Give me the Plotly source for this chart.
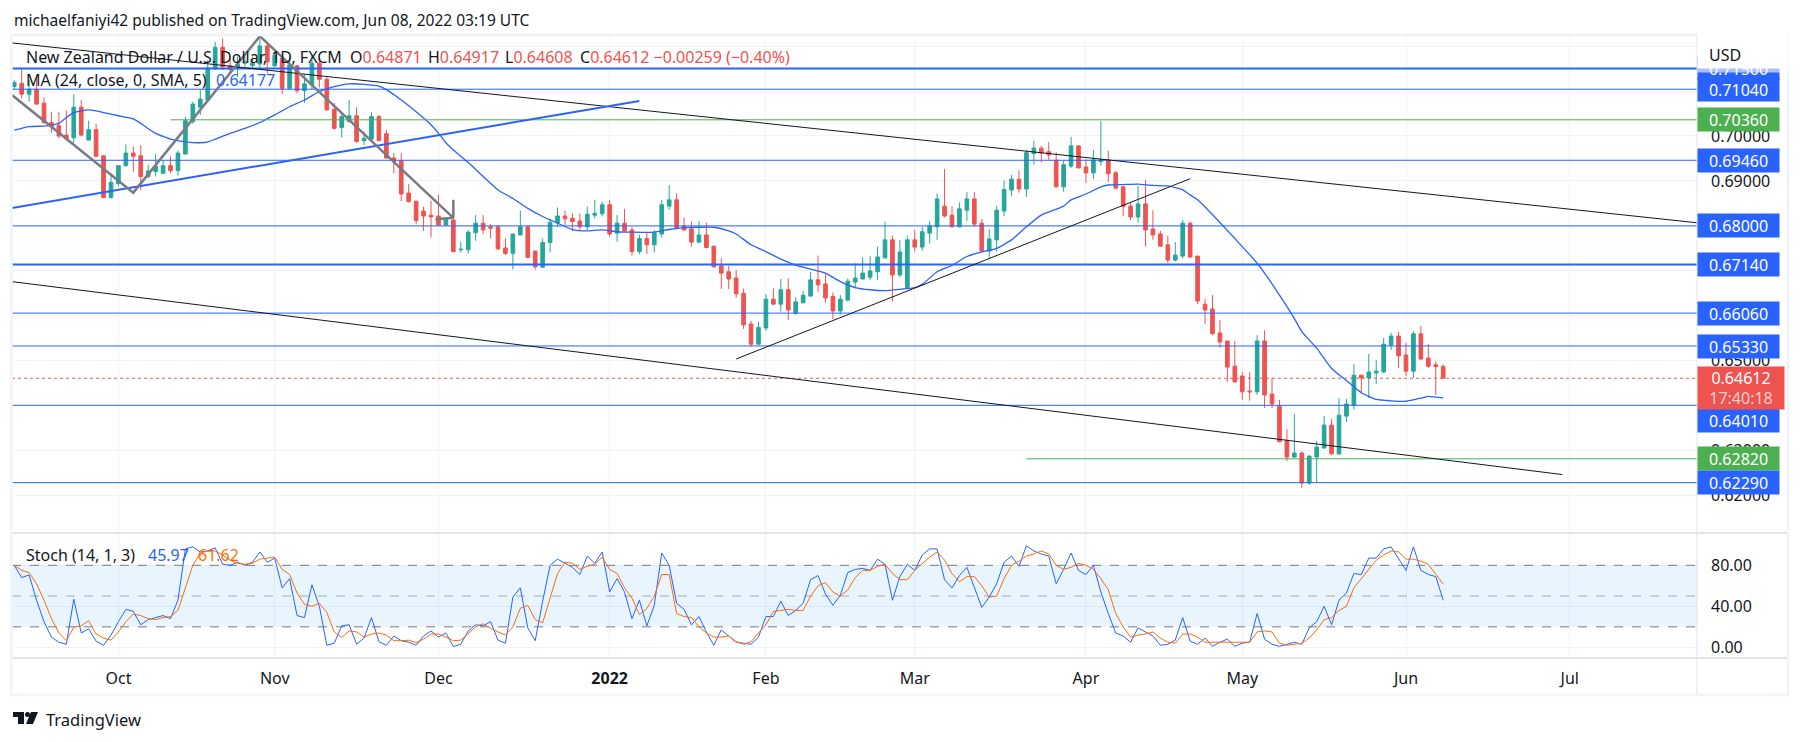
#Import libraries
import numpy as np
import pandas as pd
import plotly.graph_objects as go
from plotly.subplots import make_subplots

W, H = 1801, 742
L, R, T, B = 12, 104, 36, 84   # plot area margins

#Daily NZD/USD candles: open, high, low, close
ohlc = [
 (.7110,.7125,.7103,.7119),(.7117,.7151,.7084,.7093),(.7093,.7125,.7076,.7104),(.7104,.7131,.7069,.7071),
 (.7073,.7086,.7027,.7030),(.7030,.7054,.7007,.7021),(.7023,.7054,.6995,.7000),(.7002,.7057,.6991,.6994),
 (.6996,.7093,.6984,.7064),(.7064,.7080,.6999,.7002),(.6991,.7034,.6990,.7014),(.7014,.7027,.6953,.6955),
 (.6956,.6957,.6861,.6863),(.6863,.6917,.6861,.6897),(.6894,.6934,.6888,.6934),(.6934,.6981,.6932,.6962),
 (.6962,.6977,.6921,.6955),(.6956,.6980,.6879,.6910),(.6910,.6936,.6906,.6922),(.6921,.6960,.6910,.6932),
 (.6917,.6947,.6916,.6934),(.6934,.6955,.6917,.6923),(.6923,.6968,.6912,.6962),(.6960,.7043,.6959,.7034),
 (.7032,.7076,.7027,.7071),(.7064,.7103,.7047,.7082),(.7080,.7169,.7079,.7151),(.7149,.7209,.7147,.7197),
 (.7197,.7217,.7147,.7154),(.7156,.7173,.7143,.7148),(.7151,.7177,.7131,.7160),(.7162,.7177,.7154,.7165),
 (.7157,.7177,.7151,.7162),(.7160,.7217,.7151,.7200),(.7200,.7206,.7139,.7165),(.7156,.7188,.7154,.7180),
 (.7173,.7180,.7093,.7106),(.7106,.7177,.7103,.7158),(.7156,.7158,.7095,.7101),(.7101,.7136,.7074,.7116),
 (.7114,.7180,.7103,.7162),(.7162,.7173,.7108,.7126),(.7126,.7133,.7057,.7058),(.7059,.7073,.7014,.7017),
 (.7019,.7052,.6997,.7043),(.7032,.7080,.7030,.7045),(.7045,.7064,.6985,.6988),(.6990,.7010,.6980,.6995),
 (.6993,.7053,.6990,.7043),(.7043,.7047,.6988,.6990),(.7005,.7014,.6949,.6951),(.6951,.6962,.6917,.6943),
 (.6945,.6962,.6855,.6871),(.6873,.6893,.6852,.6854),(.6855,.6856,.6804,.6812),(.6833,.6843,.6789,.6822),
 (.6824,.6856,.6774,.6820),(.6822,.6869,.6800,.6802),(.6802,.6817,.6799,.6815),(.6813,.6821,.6741,.6743),
 (.6747,.6765,.6741,.6748),(.6747,.6791,.6739,.6786),(.6785,.6824,.6767,.6806),(.6806,.6824,.6782,.6791),
 (.6798,.6804,.6772,.6795),(.6798,.6802,.6746,.6749),(.6751,.6772,.6735,.6739),(.6739,.6782,.6703,.6782),
 (.6780,.6834,.6779,.6798),(.6798,.6801,.6728,.6730),(.6744,.6745,.6703,.6709),(.6708,.6772,.6706,.6763),
 (.6763,.6817,.6741,.6808),(.6807,.6841,.6797,.6822),(.6822,.6834,.6802,.6816),(.6817,.6828,.6789,.6810),
 (.6811,.6828,.6789,.6798),(.6798,.6843,.6791,.6826),(.6824,.6858,.6817,.6828),(.6827,.6854,.6821,.6847),
 (.6847,.6858,.6776,.6782),(.6784,.6824,.6765,.6806),(.6806,.6838,.6787,.6789),(.6791,.6798,.6734,.6743),
 (.6743,.6780,.6737,.6772),(.6772,.6785,.6738,.6758),(.6758,.6791,.6741,.6785),(.6782,.6858,.6774,.6847),
 (.6844,.6891,.6836,.6858),(.6858,.6872,.6792,.6796),(.6800,.6819,.6789,.6791),(.6793,.6810,.6754,.6764),
 (.6764,.6811,.6761,.6780),(.6780,.6807,.6750,.6752),(.6755,.6755,.6708,.6709),(.6711,.6728,.6660,.6695),
 (.6698,.6711,.6660,.6682),(.6684,.6702,.6640,.6649),(.6650,.6661,.6571,.6580),(.6582,.6589,.6531,.6537),
 (.6537,.6587,.6537,.6574),(.6573,.6648,.6567,.6637),(.6637,.6661,.6625,.6626),(.6626,.6682,.6609,.6658),
 (.6658,.6683,.6591,.6613),(.6606,.6641,.6602,.6631),(.6629,.6655,.6628,.6646),(.6644,.6698,.6643,.6680),
 (.6680,.6734,.6653,.6669),(.6671,.6693,.6629,.6640),(.6643,.6652,.6593,.6611),(.6611,.6646,.6603,.6637),
 (.6635,.6683,.6632,.6677),(.6675,.6717,.6661,.6684),(.6682,.6730,.6681,.6695),(.6686,.6733,.6680,.6700),
 (.6698,.6754,.6680,.6731),(.6729,.6809,.6727,.6769),(.6769,.6778,.6632,.6691),(.6691,.6769,.6686,.6742),
 (.6663,.6778,.6661,.6769),(.6769,.6791,.6743,.6753),(.6753,.6798,.6745,.6787),(.6784,.6810,.6761,.6800),
 (.6798,.6872,.6769,.6860),(.6844,.6927,.6819,.6822),(.6824,.6844,.6797,.6798),(.6798,.6852,.6797,.6838),
 (.6835,.6875,.6811,.6860),(.6860,.6875,.6798,.6804),(.6806,.6815,.6743,.6744),(.6744,.6793,.6729,.6771),
 (.6769,.6844,.6743,.6835),(.6833,.6901,.6822,.6881),(.6880,.6913,.6867,.6904),(.6904,.6924,.6874,.6882),
 (.6882,.6969,.6865,.6963),(.6961,.6989,.6936,.6973),(.6973,.6978,.6941,.6962),(.6965,.6987,.6947,.6958),
 (.6946,.6964,.6886,.6887),(.6887,.6945,.6876,.6936),(.6933,.6998,.6929,.6978),(.6978,.6979,.6928,.6929),
 (.6931,.6948,.6896,.6918),(.6918,.6969,.6904,.6947),(.6943,.7034,.6934,.6947),(.6947,.6967,.6898,.6916),
 (.6918,.6922,.6881,.6884),(.6887,.6887,.6822,.6843),(.6844,.6852,.6813,.6820),(.6820,.6889,.6807,.6849),
 (.6849,.6902,.6754,.6791),(.6793,.6835,.6769,.6780),(.6782,.6789,.6754,.6755),(.6758,.6778,.6717,.6724),
 (.6724,.6764,.6721,.6735),(.6733,.6813,.6728,.6806),(.6806,.6809,.6728,.6731),(.6733,.6733,.6626,.6633),
 (.6626,.6637,.6582,.6613),(.6615,.6646,.6558,.6560),(.6562,.6591,.6529,.6542),(.6544,.6544,.6453,.6486),
 (.6488,.6544,.6451,.6453),(.6466,.6475,.6413,.6431),(.6433,.6475,.6411,.6431),(.6431,.6557,.6424,.6544),
 (.6544,.6568,.6395,.6424),(.6426,.6462,.6395,.6404),(.6399,.6413,.6319,.6320),(.6322,.6348,.6277,.6286),
 (.6286,.6382,.6284,.6295),(.6295,.6299,.6217,.6228),(.6228,.6290,.6224,.6288),(.6286,.6322,.6230,.6308),
 (.6306,.6377,.6305,.6357),(.6357,.6371,.6290,.6293),(.6293,.6417,.6290,.6379),(.6377,.6415,.6364,.6404),
 (.6401,.6493,.6391,.6468),(.6468,.6469,.6426,.6462),(.6462,.6515,.6417,.6475),(.6473,.6502,.6448,.6477),
 (.6475,.6551,.6473,.6537),(.6535,.6562,.6524,.6555),(.6555,.6564,.6484,.6511),(.6513,.6540,.6466,.6477),
 (.6477,.6566,.6462,.6560),(.6560,.6577,.6502,.6504),(.6506,.6537,.6484,.6488),(.6491,.6499,.6424,.6487),
 (.64871,.64917,.64608,.64612),
]
df = pd.DataFrame(ohlc, columns=['open', 'high', 'low', 'close'])
df['date'] = pd.bdate_range('2021-09-13', periods=len(df))
df['bar'] = np.arange(len(df)) - 14   # bar 0 is Oct 1, weekends are skipped like on the chart

#MA line, read at these bars
ma = {-14:.7013,-12:.7021,-10:.7022,-9:.7024,-8:.7028,-7:.7041,-6:.7052,-5:.7056,-4:.7058,-3:.7056,-2:.7052,
      0:.7045,2:.7038,3:.7028,4:.7016,5:.7006,6:.6999,7:.6993,9:.6987,11:.6985,12:.6987,13:.6993,15:.7006,
      17:.7017,19:.7030,21:.7047,23:.7065,25:.7080,27:.7099,28:.7105,29:.7110,31:.7116,33:.7115,35:.7111,
      36:.7103,38:.7080,40:.7054,42:.7025,43:.7006,44:.6985,45:.6969,47:.6941,49:.6910,51:.6880,53:.6861,
      55:.6839,57:.6821,59:.6806,61:.6792,63:.6789,65:.6791,67:.6787,69:.6786,72:.6786,74:.6792,76:.6796,
      78:.6797,80:.6797,82:.6789,83:.6782,85:.6758,87:.6743,89:.6726,91:.6713,93:.6704,95:.6695,97:.6676,
      99:.6663,101:.6658,103:.6656,105:.6659,107:.6663,108:.6670,110:.6698,112:.6712,114:.6732,116:.6742,
      118:.6750,120:.6769,122:.6798,124:.6824,127:.6844,128:.6858,130:.6871,132:.6887,133:.6891,135:.6892,
      137:.6893,139:.6890,141:.6889,143:.6880,144:.6869,145:.6858,151:.6754,153:.6717,154:.6695,156:.6646,
      158:.6594,159:.6565,161:.6528,163:.6483,165:.6456,167:.6429,169:.6414,171:.6411,173:.6410,175:.6417,
      176:.6421,177:.6419,178:.64177}

#Stochastic %K and %D, one value per bar
stoch_k = [80,68,70.6,46,25,10,5,3,47,14,18,6,2,12,25,37,35,22,27,29,31,28,46,96,98,93,94,97,81,80,83,80,83,93,83,87,
           58,67,31,29,61,40,2,4,21,22,3,9,29,5.5,2,11,6.5,5,2,11,16,10,14,0.7,3,16,22,21,25,7,4,49,58,19,6.5,45,80,
           86,82,78,71,89,82,93,54,67,54,28,46,21,41,92,80,43,37,22,30,15,2,17,11,5,4,3,10,30,30,45,31,36,
           43,66,70,52,41,51,73,76,77,75,86,81,46,69,81,75,90,96,96,66,58,70,78,58,39,49,62,83,89,79,99,94,91,89,
           62,76,92,75,71,80,54,33,14,11,5,19,15,11,2,3,7,29,6,3,9,1,5,8,1,4,5,33,8,3,1,3,5,3,19,25,40,22,46,53,
           72,71,87,87,96,98,86,75,98,75,71,69,45.97]
stoch_d = [80,75,73,62,46,28,14,6.5,19.5,21,26,13,9,7,15,25,32.5,31,28,27,29,30,36,58,80,92,94,94,90,85,82,81,82,86,87,
           88,76,71,53,42,40,43,34,15,9.5,16,15,10,13,14,12,6.5,6.5,7,4.5,8,13,13,10,6.5,7,14,20,23,18.5,15,12,20,38,
           41,27,24,48,72,83,82,76,79,81,88,76,72,58,48,32,38,50,71,71,33,30,29,20,14,10,10,11,5.5,3,5.5,14,22,35,36,
           37,36,36,50,60,63,54,50,56,68,75,75,79,81,72,66,66,75,82,88,93,85,72,64,69,69,60,49,50,67,80,84,89,91,94,
           91,80,76,78,82,80,76,67,56,33,20,10,12,13,15,9,5,4,13,13,10,5,5,5,5,5,5,5,15,16,15,4,2,3,4,9,17,27,29,36,
           40,58,67,77,85,90,94,93,86,86,84,81,71,61.62]

#Levels drawn on the chart: price, colour, width, first bar
BLUE, GREEN, RED = '#2962ff', '#4caf50', '#ef5350'
x0, x1 = -14.3, 212.1
levels = [(0.7150, BLUE, 2, x0), (0.7104, BLUE, 1, x0), (0.7036, GREEN, 1, 7), (0.6946, BLUE, 1, x0),
          (0.6800, BLUE, 1, x0), (0.6714, BLUE, 2, x0), (0.6606, BLUE, 1, x0), (0.6533, BLUE, 1, x0),
          (0.6401, BLUE, 1, x0), (0.6282, GREEN, 1, 122), (0.6229, BLUE, 1, x0)]

fig = make_subplots(rows=2, cols=1, shared_xaxes=True, vertical_spacing=0, row_heights=[497, 125])

fig.add_trace(go.Candlestick(x=df['bar'], open=df['open'], high=df['high'], low=df['low'], close=df['close'],
                             increasing=dict(line=dict(color='#26a69a', width=1), fillcolor='#26a69a'),
                             decreasing=dict(line=dict(color=RED, width=1), fillcolor=RED),
                             whiskerwidth=0), row=1, col=1)
fig.add_trace(go.Scatter(x=list(ma.keys()), y=list(ma.values()), mode='lines',
                         line=dict(color=BLUE, width=1.3, shape='spline', smoothing=0.5)), row=1, col=1)

for price, color, width, start in levels:
    fig.add_trace(go.Scatter(x=[start, x1], y=[price, price], mode='lines',
                             line=dict(color=color, width=width)), row=1, col=1)

#last price
fig.add_trace(go.Scatter(x=[x0, x1], y=[0.64612, 0.64612], mode='lines',
                         line=dict(color=RED, width=1, dash='dot')), row=1, col=1)

#trendlines
trends = [([x0, x1], [.7207, .6807], '#131722', 1),
          ([x0, 194], [.6676, .6247], '#131722', 1),
          ([83, 144], [.6504, .6905], '#131722', 1),
          ([x0, 70], [.6840, .7078], BLUE, 2)]
for xs, ys, color, width in trends:
    fig.add_trace(go.Scatter(x=xs, y=ys, mode='lines', line=dict(color=color, width=width)), row=1, col=1)

#grey zigzag with its arrow head
fig.add_trace(go.Scatter(x=[x0, 2, 19, 45, 45, None, 42.6, 45], y=[.7091, .6874, .7222, .6818, .6858, None, .6815, .6818],
                         mode='lines', line=dict(color='#787b86', width=2.5)), row=1, col=1)

#stochastic pane
fig.add_trace(go.Scatter(x=[x0, x1, x1, x0], y=[20, 20, 80, 80], mode='lines', fill='toself',
                         fillcolor='rgba(33,150,243,0.1)', line=dict(width=0)), row=2, col=1)
for lvl, c in [(80, '#787b86'), (50, 'rgba(120,123,134,0.6)'), (20, '#787b86')]:
    fig.add_trace(go.Scatter(x=[x0, x1], y=[lvl, lvl], mode='lines', line=dict(color=c, width=1, dash='dash')), row=2, col=1)
fig.add_trace(go.Scatter(x=df['bar'], y=stoch_k, mode='lines', line=dict(color=BLUE, width=1)), row=2, col=1)
fig.add_trace(go.Scatter(x=df['bar'], y=stoch_d, mode='lines', line=dict(color='#ff6d00', width=1)), row=2, col=1)

#x axis ticks are the first trading day of each month
tickbars = [0, 21, 43, 66, 87, 107, 130, 151, 173, 195]
ticknames = ['Oct', 'Nov', 'Dec', '<b>2022</b>', 'Feb', 'Mar', 'Apr', 'May', 'Jun', 'Jul']
FONT = 'Noto Sans'
fig.update_xaxes(range=[x0, x1], tickvals=tickbars, ticktext=ticknames, showgrid=True, gridcolor='#f0f3fa',
                 gridwidth=1, zeroline=False, rangeslider_visible=False, showline=False,
                 tickfont=dict(family=FONT, size=16, color='#131722'), ticks='outside', ticklen=6, tickcolor='white')
fig.update_yaxes(side='right', showgrid=True, gridcolor='#f0f3fa', gridwidth=1, zeroline=False, showline=False,
                 tickfont=dict(family=FONT, size=16, color='#131722'), ticks='', ticklabelstandoff=13)
fig.update_yaxes(range=[.6117, .72224], tickvals=[.62, .63, .64, .65, .66, .67, .68, .69, .70, .71, .72],
                 tickformat='.5f', row=1, col=1)
fig.update_yaxes(range=[-10.4, 111.5], tickvals=[0, 40, 80], tickformat='.2f', row=2, col=1)


def px(x):
    return (x - L) / (W - L - R)


def py(y):
    return (H - B - y) / (H - T - B)


def text(x, y, s, color='#131722', size=16, **kw):
    fig.add_annotation(xref='paper', yref='paper', x=px(x), y=py(y), text=s, showarrow=False, xanchor='left',
                       yanchor='middle', font=dict(family=FONT, size=size, color=color), **kw)


def label(y, s, color, w=81, h=23):
    fig.add_annotation(xref='paper', yref='paper', x=px(1697), y=py(y), text=s, showarrow=False, xanchor='left',
                       yanchor='middle', width=w, height=h, bgcolor=color, borderpad=0, align='center',
                       font=dict(family=FONT, size=16, color='white'))


#price labels on the axis
label(68.6, '0.71500', BLUE)
text(1697, 51, ' ', width=88, height=32, bgcolor='white')
text(1697, 69, ' ', width=88, height=4, bgcolor='rgba(255,255,255,0.6)')
label(89.2, '0.71040', BLUE)
label(119.8, '0.70360', GREEN)
label(160.3, '0.69460', BLUE)
label(226, '0.68000', BLUE)
label(264.5, '0.67140', BLUE)
label(313, '0.66060', BLUE)
label(346.5, '0.65330', BLUE)
label(420, '0.64010', BLUE)
label(458.5, '0.62820', GREEN)
label(482.4, '0.62290', BLUE)
label(388, '0.64612<br><span style="color:#fbd0cf">17:40:18</span>', RED, w=86, h=42)
text(1707, 54.7, 'USD')

#header, legends and footer
text(12, 20.5, 'michaelfaniyi42 published on TradingView.com, Jun 08, 2022 03:19 UTC', size=15.5)
text(24, 57, 'New Zealand Dollar / U.S. Dollar, 1D, FXCM')
for xpos, head, val in [(348, 'O', '0.64871'), (425.6, 'H', '0.64917'), (503, 'L', '0.64608'),
                        (578, 'C', '0.64612 −0.00259 (−0.40%)')]:
    text(xpos, 57, f'{head}<span style="color:{RED}">{val}</span>')
text(24, 80, 'MA (24, close, 0, SMA, 5)')
text(214, 80, '0.64177', color=BLUE)
text(24, 555, 'Stoch (14, 1, 3)')
text(146, 555, '45.97', color=BLUE)
text(196, 555, '61.62', color='#ff6d00')
text(44, 719, 'TradingView', size=16.5)

#pane borders, outer frame and the small logo
for (a, b, c, d), col, wd in [((1697, 36, 1697, 694), '#e0e3eb', 1), ((12, 533, 1788, 533), '#e0e3eb', 2),
                              ((12, 658, 1788, 658), '#e0e3eb', 2)]:
    fig.add_shape(type='line', xref='paper', yref='paper', x0=px(a), y0=py(b), x1=px(c), y1=py(d),
                  line=dict(color=col, width=wd))
fig.add_shape(type='rect', xref='paper', yref='paper', x0=px(11.5), y0=py(35), x1=px(1788), y1=py(695),
              line=dict(color='#f0f3fa', width=2.5))
logo = [[(13, 712), (24, 712), (24, 724), (18, 724), (18, 717), (13, 717)],
        [(31, 712), (38, 712), (33, 724), (26, 724)]]
for poly in logo:
    path = 'M ' + ' L '.join(f'{px(a):.5f} {py(b):.5f}' for a, b in poly) + ' Z'
    fig.add_shape(type='path', xref='paper', yref='paper', path=path, fillcolor='#131722', line_width=0)
fig.add_shape(type='circle', xref='paper', yref='paper', x0=px(25), y0=py(712), x1=px(30), y1=py(717),
              fillcolor='#131722', line_width=0)

fig.update_layout(width=W, height=H, margin=dict(l=L, r=R, t=T, b=B, pad=0), showlegend=False,
                  paper_bgcolor='white', plot_bgcolor='white', font=dict(family=FONT))
fig.write_html("out.html", config=dict(displayModeBar=False), post_script="document.body.style.margin='0';")
